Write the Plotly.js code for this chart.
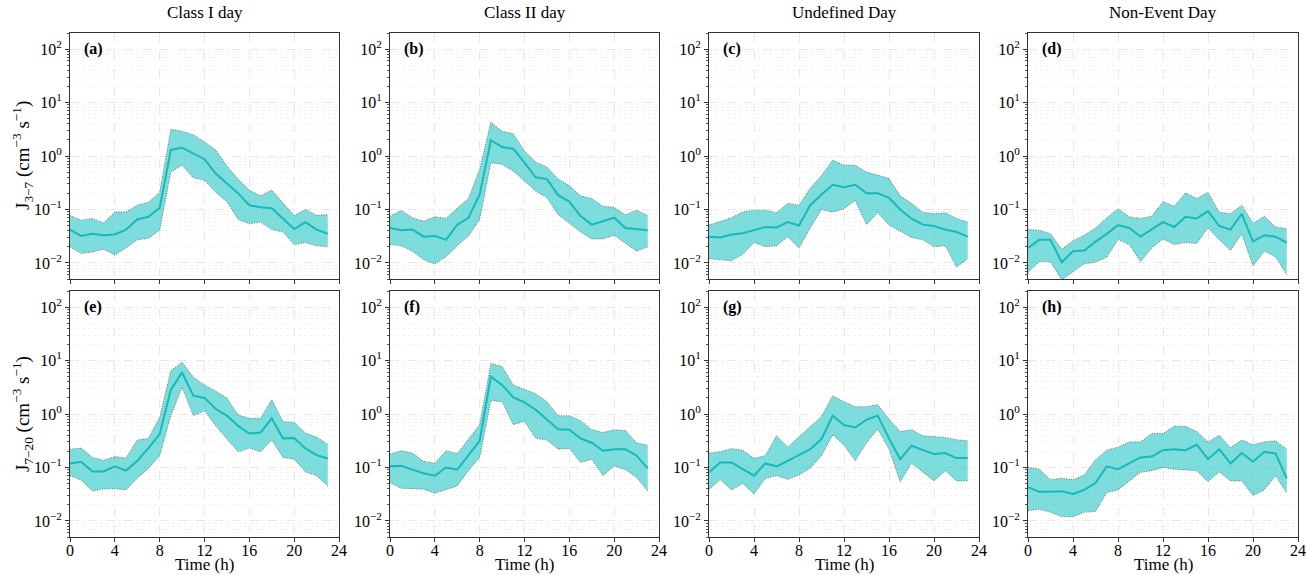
<!DOCTYPE html>
<html><head><meta charset="utf-8">
<script src="https://cdn.plot.ly/plotly-3.0.1.min.js"></script>
<style>body{margin:0;background:#fff}#c{width:1306px;height:575px}</style>
</head><body><div id="c"></div>
<script>
const hours = [0,1,2,3,4,5,6,7,8,9,10,11,12,13,14,15,16,17,18,19,20,21,22,23];
const xTickVals = [0,4,8,12,16,20,24];
const yTickVals = [0.01,0.1,1,10,100];
const yTickText = ["10<sup>−2</sup>","10<sup>−1</sup>","10<sup>0</sup>","10<sup>1</sup>","10<sup>2</sup>"];
const columnTitles = ["Class I day","Class II day","Undefined Day","Non-Event Day"];
const panelLabels = ["(a)","(b)","(c)","(d)","(e)","(f)","(g)","(h)"];
const yTitles = ["J<sub>3−7</sub> (cm<sup>−3</sup> s<sup>−1</sup>)","J<sub>7−20</sub> (cm<sup>−3</sup> s<sup>−1</sup>)"];
const xTitle = "Time (h)";

// J3-7
const aMed=[0.042,0.032,0.035,0.033,0.034,0.042,0.065,0.073,0.107,1.3,1.43,1.12,0.87,0.47,0.30,0.20,0.12,0.11,0.105,0.067,0.043,0.058,0.042,0.035];
const aUp=[0.077,0.063,0.068,0.056,0.09,0.09,0.12,0.137,0.21,3.16,2.9,2.5,1.83,1.3,0.65,0.37,0.23,0.18,0.23,0.13,0.077,0.10,0.078,0.08];
const aLo=[0.020,0.015,0.016,0.018,0.014,0.019,0.027,0.029,0.041,0.50,0.67,0.39,0.35,0.21,0.14,0.065,0.054,0.058,0.042,0.038,0.022,0.024,0.021,0.020];

const bMed=[0.045,0.041,0.042,0.031,0.032,0.027,0.052,0.07,0.19,1.97,1.47,1.37,0.75,0.40,0.37,0.185,0.14,0.075,0.052,0.06,0.07,0.045,0.043,0.041];
const bUp=[0.075,0.096,0.07,0.06,0.073,0.068,0.107,0.16,0.56,4.3,2.9,2.6,1.24,0.77,0.62,0.37,0.28,0.18,0.16,0.115,0.11,0.08,0.097,0.077];
const bLo=[0.022,0.021,0.0165,0.0115,0.0095,0.013,0.021,0.032,0.065,0.75,0.70,0.52,0.34,0.22,0.165,0.08,0.055,0.038,0.028,0.028,0.033,0.023,0.0165,0.020];

const cMed=[0.031,0.030,0.034,0.036,0.041,0.047,0.046,0.058,0.050,0.12,0.19,0.29,0.26,0.29,0.20,0.20,0.165,0.10,0.067,0.052,0.049,0.042,0.038,0.031];
const cUp=[0.051,0.060,0.070,0.090,0.097,0.097,0.087,0.13,0.12,0.25,0.43,0.84,0.67,0.67,0.50,0.44,0.38,0.18,0.13,0.089,0.083,0.087,0.068,0.058];
const cLo=[0.012,0.0115,0.011,0.0145,0.024,0.020,0.021,0.031,0.019,0.045,0.10,0.089,0.103,0.147,0.052,0.087,0.051,0.039,0.030,0.027,0.020,0.021,0.0083,0.012];

const dMed=[0.019,0.027,0.027,0.0103,0.0165,0.017,0.025,0.035,0.051,0.045,0.031,0.042,0.058,0.047,0.073,0.068,0.093,0.049,0.042,0.083,0.025,0.033,0.031,0.024];
const dUp=[0.042,0.041,0.035,0.018,0.026,0.033,0.045,0.070,0.103,0.073,0.068,0.075,0.14,0.115,0.205,0.16,0.21,0.089,0.083,0.12,0.055,0.075,0.047,0.044];
const dLo=[0.0066,0.0105,0.0105,0.0048,0.0068,0.0096,0.0103,0.0128,0.027,0.022,0.0105,0.019,0.028,0.022,0.024,0.023,0.045,0.027,0.017,0.035,0.0088,0.0165,0.013,0.006];

// J7-20
const eMed=[0.119,0.128,0.084,0.084,0.105,0.087,0.133,0.23,0.42,2.86,6.0,2.2,2.0,1.24,0.93,0.60,0.43,0.45,0.83,0.35,0.355,0.227,0.17,0.147];
const eUp=[0.22,0.23,0.154,0.137,0.16,0.15,0.325,0.35,0.87,6.5,9.3,4.9,3.5,2.7,2.0,0.96,0.83,0.83,1.86,0.72,0.70,0.44,0.37,0.27];
const eLo=[0.070,0.058,0.036,0.040,0.040,0.038,0.063,0.096,0.166,0.93,3.16,0.93,1.15,0.60,0.34,0.196,0.23,0.196,0.325,0.154,0.143,0.083,0.070,0.045];

const fMed=[0.105,0.107,0.091,0.078,0.070,0.10,0.091,0.166,0.316,5.0,3.5,2.05,1.65,1.2,0.80,0.52,0.51,0.35,0.29,0.205,0.22,0.22,0.166,0.096];
const fUp=[0.178,0.205,0.186,0.13,0.12,0.205,0.183,0.34,0.63,8.9,7.7,3.5,2.9,2.4,1.7,0.93,0.93,0.75,0.51,0.45,0.51,0.49,0.29,0.26];
const fLo=[0.052,0.041,0.040,0.039,0.033,0.039,0.045,0.087,0.154,1.78,1.7,0.63,0.73,0.35,0.325,0.22,0.227,0.124,0.143,0.070,0.107,0.091,0.065,0.036];

const gMed=[0.081,0.124,0.124,0.093,0.070,0.119,0.105,0.133,0.17,0.22,0.34,0.93,0.62,0.56,0.78,0.93,0.35,0.143,0.255,0.21,0.178,0.186,0.15,0.15];
const gUp=[0.186,0.196,0.227,0.21,0.148,0.166,0.39,0.24,0.376,0.58,0.90,2.2,1.7,1.37,1.37,1.5,0.80,0.47,0.51,0.39,0.376,0.365,0.33,0.316];
const gLo=[0.039,0.059,0.038,0.050,0.032,0.062,0.070,0.060,0.072,0.097,0.166,0.41,0.26,0.133,0.29,0.52,0.22,0.054,0.12,0.083,0.056,0.087,0.056,0.056];

const hMed=[0.043,0.035,0.035,0.036,0.032,0.038,0.051,0.105,0.093,0.12,0.154,0.16,0.21,0.22,0.21,0.266,0.143,0.22,0.119,0.186,0.128,0.196,0.183,0.062];
const hUp=[0.10,0.093,0.059,0.063,0.059,0.072,0.14,0.21,0.24,0.30,0.30,0.43,0.43,0.59,0.59,0.47,0.30,0.40,0.237,0.325,0.266,0.30,0.316,0.22];
const hLo=[0.0155,0.0165,0.0145,0.012,0.012,0.0145,0.015,0.034,0.038,0.056,0.081,0.087,0.10,0.093,0.089,0.087,0.054,0.083,0.056,0.056,0.030,0.038,0.070,0.033];

const panels=[[aMed,aUp,aLo],[bMed,bUp,bLo],[cMed,cUp,cLo],[dMed,dUp,dLo],[eMed,eUp,eLo],[fMed,fUp,fLo],[gMed,gUp,gLo],[hMed,hUp,hLo]];

const W=1306,H=575;
const colPx=[[70,339],[390,659],[709,979],[1028,1298]];
const rowPx=[[33,279],[291,537]];
const FONT="Liberation Serif";
const fillColor="rgba(64,204,204,0.68)";
const lineColor="#17b9b9";

const data=[];
const layout={width:W,height:H,margin:{l:0,r:0,t:0,b:0},paper_bgcolor:"#fff",plot_bgcolor:"#fff",
  showlegend:false,font:{family:FONT,size:16,color:"#000"},annotations:[]};

panels.forEach((p,i)=>{
  const r=Math.floor(i/4), c=i%4, n=i+1;
  const xa="x"+(n===1?"":n), ya="y"+(n===1?"":n);
  const xk="xaxis"+(n===1?"":n), yk="yaxis"+(n===1?"":n);
  const edge={color:"#444",width:0.7,dash:"1px,1.5px"};
  data.push({x:hours,y:p[2],xaxis:xa,yaxis:ya,type:"scatter",mode:"lines",line:edge,hoverinfo:"skip"});
  data.push({x:hours,y:p[1],xaxis:xa,yaxis:ya,type:"scatter",mode:"lines",line:edge,fill:"tonexty",fillcolor:fillColor,hoverinfo:"skip"});
  data.push({x:hours,y:p[0],xaxis:xa,yaxis:ya,type:"scatter",mode:"lines",line:{color:lineColor,width:2}});
  layout[xk]={domain:[colPx[c][0]/W,colPx[c][1]/W],anchor:ya,range:[0,24],tickmode:"array",tickvals:xTickVals,ticktext:xTickVals.map(String),
    showticklabels:r===1,ticks:"outside",ticklen:4,tickcolor:"#333",showline:true,mirror:true,linecolor:"#333",linewidth:1,
    ticklabelposition:"outside",ticklabelstandoff:-5,
    showgrid:true,gridcolor:"#e2e2e2",griddash:"dash",gridwidth:0.8,zeroline:false,
    tickfont:{family:FONT,size:16,color:"#000"},automargin:false,title:{text:""}};
  layout[yk]={domain:[1-rowPx[r][1]/H,1-rowPx[r][0]/H],anchor:xa,type:"log",range:[Math.log10(0.005),Math.log10(200)],
    tickmode:"array",tickvals:yTickVals,ticktext:yTickText,ticks:"outside",ticklen:4,tickcolor:"#333",showline:true,mirror:true,linecolor:"#333",linewidth:1,
    showgrid:true,gridcolor:"#e2e2e2",griddash:"dash",gridwidth:0.8,zeroline:false,
    minor:{dtick:"D1",ticks:"outside",ticklen:2,tickcolor:"#555",showgrid:true,gridcolor:"#ececec",griddash:"dot",gridwidth:0.6},
    tickfont:{family:FONT,size:16,color:"#000"},automargin:false,title:{text:""}};
  layout.annotations.push({xref:xa+" domain",yref:ya+" domain",x:0.045,y:0.935,xanchor:"left",yanchor:"middle",
    text:"<b>"+panelLabels[i]+"</b>",showarrow:false,font:{family:FONT,size:16}});
  if(r===0){
    layout.annotations.push({xref:xa+" domain",yref:"paper",x:0.5,y:1-12/H,xanchor:"center",yanchor:"middle",
      text:columnTitles[c],showarrow:false,font:{family:FONT,size:17}});
  } else {
    layout.annotations.push({xref:xa+" domain",yref:"paper",x:0.5,y:0,xanchor:"center",yanchor:"bottom",
      text:xTitle,showarrow:false,borderpad:0,font:{family:FONT,size:17}});
  }
  if(c===0){
    layout.annotations.push({xref:"paper",yref:ya+" domain",x:22/W,y:0.5,xanchor:"center",yanchor:"middle",textangle:-90,
      text:yTitles[r],showarrow:false,font:{family:FONT,size:19}});
  }
});
Plotly.newPlot("c",data,layout,{staticPlot:true});
</script></body></html>
